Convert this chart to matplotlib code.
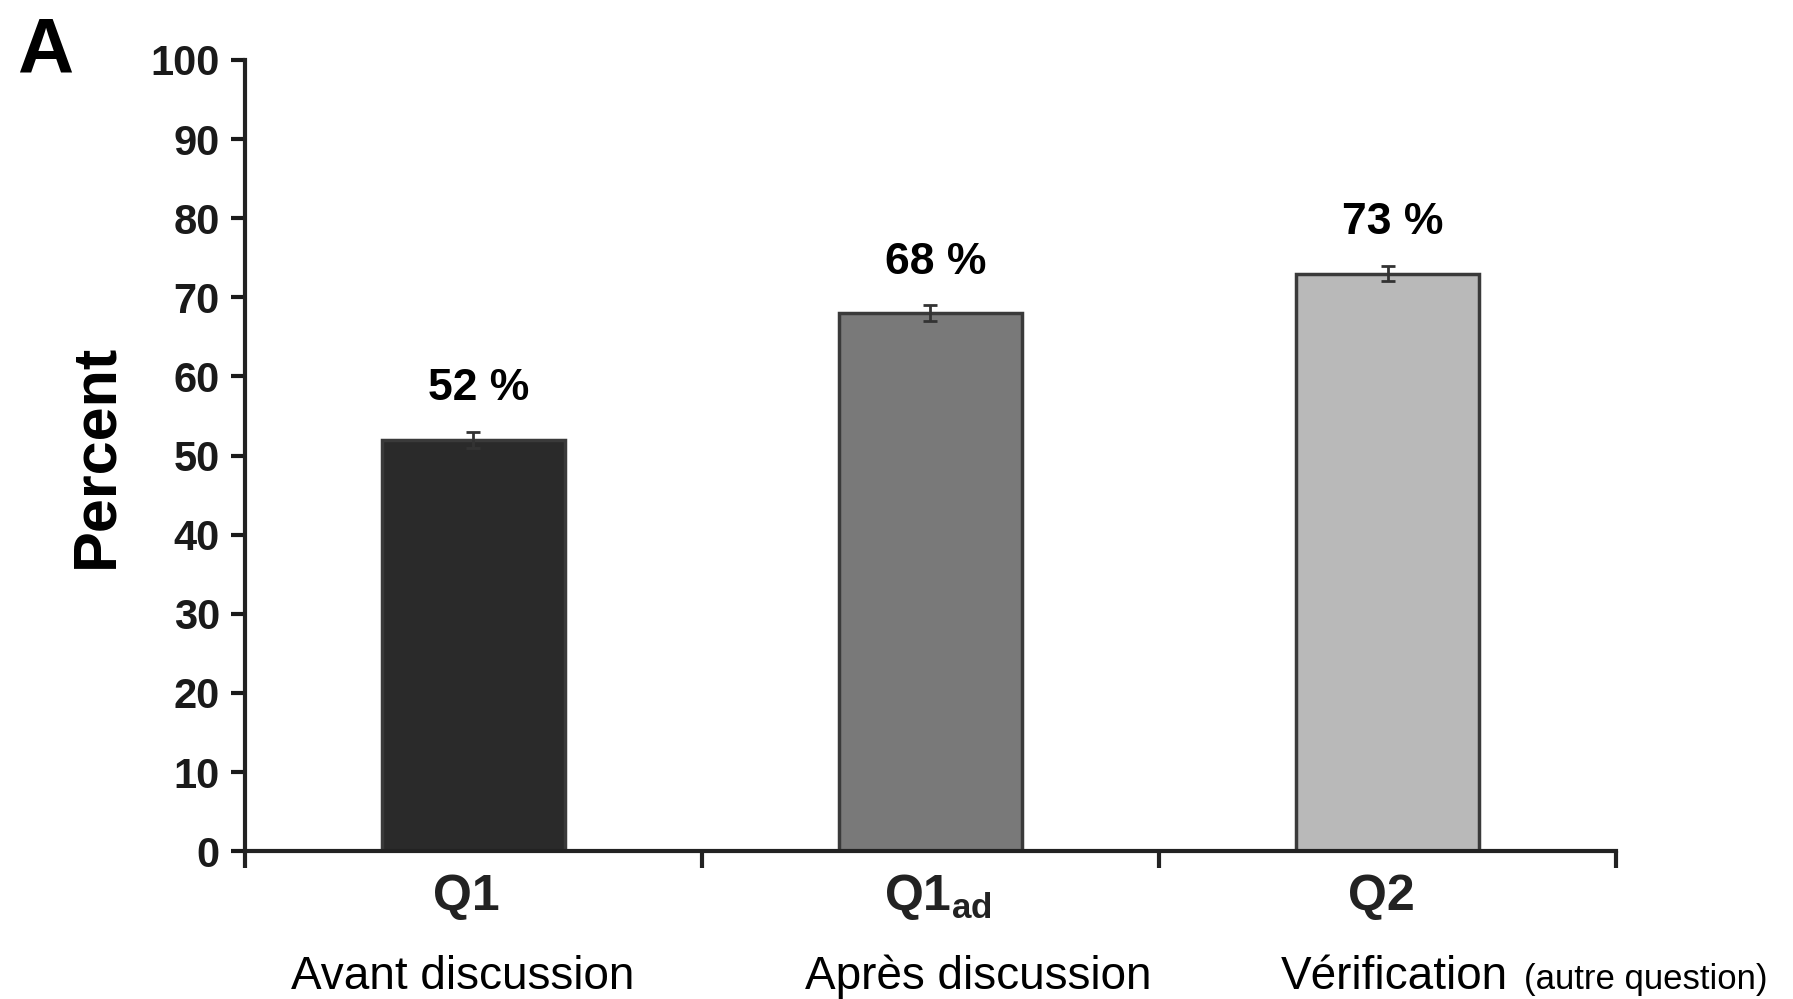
import matplotlib.pyplot as plt
from matplotlib.transforms import blended_transform_factory

plt.rcParams['font.family'] = ['Liberation Sans', 'DejaVu Sans']
plt.rcParams['mathtext.fontset'] = 'custom'
plt.rcParams['mathtext.bf'] = 'Liberation Sans:bold'
plt.rcParams['mathtext.rm'] = 'Liberation Sans'

# Data
codes = ['Q1', r'$\mathbf{Q1_{ad}}$', 'Q2']
descriptions = ['Avant discussion', 'Après discussion', 'Vérification']
note = '(autre question)'
percent = [52, 68, 73]
errors = [1.0, 1.0, 0.9]
bar_colors = ['#2a2a2a', '#797979', '#b9b9b9']
yticks = list(range(0, 101, 10))

fig = plt.figure(figsize=(17.93, 9.99), dpi=100)
ax = fig.add_axes([0.1366, 0.148, 0.7647, 0.792])

x = list(range(len(percent)))
ax.bar(x, percent, width=0.4, color=bar_colors, edgecolor='#3a3a3a', linewidth=2.5, zorder=2)
ax.errorbar(x, percent, yerr=errors, fmt='none', ecolor='#333333',
            elinewidth=2, capsize=5, capthick=2, zorder=3)

# value labels above bars
for xi, v in zip(x, percent):
    ax.annotate(f'{v} %', (xi, v), xytext=(4, 22), textcoords='offset points',
                ha='center', va='bottom', fontsize=32, fontweight='bold')

ax.set_xlim(-0.5, 2.5)
ax.set_ylim(0, 100)
ax.set_yticks(yticks)
ax.set_xticks([-0.5, 0.5, 1.5, 2.5])
ax.set_xticklabels([])
ax.tick_params(axis='y', direction='out', length=10, width=3, labelsize=30, pad=8,
               colors='#1a1a1a')
ax.tick_params(axis='x', direction='out', length=12, width=3, colors='#222222')
for lab in ax.get_yticklabels():
    lab.set_fontweight('bold')
for side in ['top', 'right']:
    ax.spines[side].set_visible(False)
for side in ['left', 'bottom']:
    ax.spines[side].set_linewidth(3)
    ax.spines[side].set_color('#222222')

ax.set_ylabel('Percent', fontsize=44, fontweight='bold', labelpad=18)

# category labels under the axis
trans = blended_transform_factory(ax.transData, ax.transAxes)
code_shift = [-0.016, 0.016, -0.014]
for xi, code, dx in zip(x, codes, code_shift):
    ax.text(xi + dx, -0.058, code, transform=trans, ha='center', va='center',
            fontsize=36, fontweight='bold', color='#222222')
ax.text(x[0] - 0.023, -0.159, descriptions[0], transform=trans, ha='center',
        va='center', fontsize=33)
ax.text(x[1] + 0.104, -0.159, descriptions[1], transform=trans, ha='center',
        va='center', fontsize=33)
ax.text(x[2] - 0.233, -0.159, descriptions[2], transform=trans, ha='left',
        va='center', fontsize=33)
ax.text(x[2] + 0.299, -0.162, note, transform=trans, ha='left',
        va='center', fontsize=25)

fig.text(0.025, 0.948, 'A', fontsize=56, fontweight='bold', ha='center', va='center')

fig.savefig('out.png', dpi=100)
